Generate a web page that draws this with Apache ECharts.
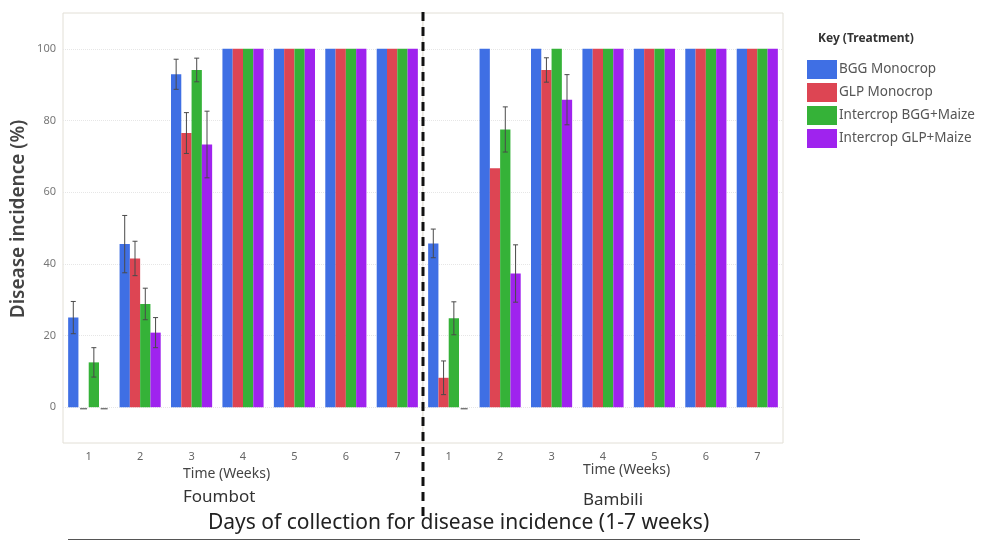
<!DOCTYPE html>
<html><head><meta charset="utf-8">
<script src="https://cdn.jsdelivr.net/npm/echarts@6/dist/echarts.min.js"></script>
<style>html,body{margin:0;padding:0;background:#fff}#c{width:985px;height:541px}</style>
</head><body><div id="c"></div>
<script>
// ---------- data ----------
const weeks = ['1', '2', '3', '4', '5', '6', '7'];
const treatments = ['BGG Monocrop', 'GLP Monocrop', 'Intercrop BGG+Maize', 'Intercrop GLP+Maize'];
const yTicks = [0, 20, 40, 60, 80, 100];

// Foumbot: mean disease incidence (%) per week
const foumbotBGG      = [25,   45.5, 92.9, 100, 100, 100, 100];
const foumbotGLP      = [0,    41.5, 76.5, 100, 100, 100, 100];
const foumbotBGGMaize = [12.5, 28.8, 94.1, 100, 100, 100, 100];
const foumbotGLPMaize = [0,    20.8, 73.3, 100, 100, 100, 100];
// Foumbot: error (+/-)
const foumbotBGGErr      = [4.5, 8.0, 4.2, 0, 0, 0, 0];
const foumbotGLPErr      = [0,   4.8, 5.7, 0, 0, 0, 0];
const foumbotBGGMaizeErr = [4.1, 4.4, 3.3, 0, 0, 0, 0];
const foumbotGLPMaizeErr = [0,   4.2, 9.3, 0, 0, 0, 0];

// Bambili: mean disease incidence (%) per week
const bambiliBGG      = [45.7, 100,  100,  100, 100, 100, 100];
const bambiliGLP      = [8.2,  66.7, 94.1, 100, 100, 100, 100];
const bambiliBGGMaize = [24.8, 77.5, 100,  100, 100, 100, 100];
const bambiliGLPMaize = [0,    37.3, 85.8, 100, 100, 100, 100];
// Bambili: error (+/-)
const bambiliBGGErr      = [4.0, 0,   0,   0, 0, 0, 0];
const bambiliGLPErr      = [4.7, 0,   3.4, 0, 0, 0, 0];
const bambiliBGGMaizeErr = [4.6, 6.3, 0,   0, 0, 0, 0];
const bambiliGLPMaizeErr = [0,   8.0, 7.0, 0, 0, 0, 0];

// ---------- styling ----------
const colors = ['#3f6fe4', '#dd4553', '#35b238', '#9f23ee'];
const FONT = 'Noto Sans';

const foumbot = [foumbotBGG, foumbotGLP, foumbotBGGMaize, foumbotGLPMaize];
const foumbotErr = [foumbotBGGErr, foumbotGLPErr, foumbotBGGMaizeErr, foumbotGLPMaizeErr];
const bambili = [bambiliBGG, bambiliGLP, bambiliBGGMaize, bambiliGLPMaize];
const bambiliErr = [bambiliBGGErr, bambiliGLPErr, bambiliBGGMaizeErr, bambiliGLPMaizeErr];

const GRID_TOP = 13, GRID_H = 430, GRID_W = 360, LEFT0 = 63;
const BAR_FRAC = 0.8;

function ln(x1, y1, x2, y2) {
  return { type: 'line', shape: { x1, y1, x2, y2 }, style: { stroke: '#4a4a4a', lineWidth: 1 } };
}

function barSeries(g, means) {
  return means.map((arr, s) => {
    const o = {
      type: 'bar', name: treatments[s], xAxisIndex: g, yAxisIndex: g,
      data: arr, barGap: '0%', barCategoryGap: '20%',
      itemStyle: { color: colors[s] }, silent: true
    };
    if (s === 0) {
      o.markLine = {
        silent: true, symbol: ['none', 'none'], z: 1,
        label: { show: false },
        lineStyle: { color: '#e6e6e6', type: 'dotted', width: 1 },
        data: yTicks.map(v => ({ yAxis: v }))
      };
    }
    return o;
  });
}

function errSeries(g, means, errs) {
  const data = [];
  means.forEach((arr, s) => arr.forEach((v, i) => data.push([i, v, errs[s][i], s])));
  return {
    type: 'custom', xAxisIndex: g, yAxisIndex: g, z: 6, silent: true,
    data, encode: { x: 0, y: 1 },
    renderItem(params, api) {
      const i = api.value(0), v = api.value(1), e = api.value(2), s = api.value(3);
      const band = api.size([1, 0])[0];
      const bw = band * BAR_FRAC / 4;
      const cx = api.coord([i, 0])[0] + (s - 1.5) * bw;
      const cap = 2.5;
      const children = [];
      if (e > 0) {
        const top = api.coord([i, v + e])[1], bot = api.coord([i, v - e])[1];
        children.push(ln(cx, top, cx, bot), ln(cx - cap, top, cx + cap, top), ln(cx - cap, bot, cx + cap, bot));
      } else if (v === 0) {
        const y0 = api.coord([i, 0])[1] + 1.5;
        const l = ln(cx - 3.5, y0, cx + 3.5, y0);
        l.style.stroke = '#777';
        l.style.lineWidth = 1.5;
        children.push(l);
      }
      return { type: 'group', children };
    }
  };
}

function xAxis(g) {
  return {
    type: 'category', gridIndex: g, data: weeks,
    axisLine: { show: false }, axisTick: { show: false },
    axisLabel: { color: '#666', fontSize: 11, margin: 8, fontFamily: FONT }
  };
}
function yAxis(g) {
  return {
    type: 'value', gridIndex: g, min: -10, max: 110,
    axisLine: { show: false }, axisTick: { show: false },
    splitLine: { show: false },
    axisLabel: {
      show: g === 0, customValues: yTicks, color: '#777', fontSize: 11, margin: 7, fontFamily: FONT
    }
  };
}

const chart = echarts.init(document.getElementById('c'), null, { renderer: 'canvas' });
chart.setOption({
  animation: false,
  backgroundColor: '#fff',
  textStyle: { fontFamily: FONT },
  grid: [
    { left: LEFT0, top: GRID_TOP, width: GRID_W, height: GRID_H, show: true, borderColor: '#e2dfd6', borderWidth: 1, backgroundColor: '#fff' },
    { left: LEFT0 + GRID_W, top: GRID_TOP, width: GRID_W, height: GRID_H, show: true, borderColor: '#e2dfd6', borderWidth: 1, backgroundColor: '#fff' }
  ],
  xAxis: [xAxis(0), xAxis(1)],
  yAxis: [yAxis(0), yAxis(1)],
  legend: {
    data: treatments, orient: 'vertical', left: 802, top: 55,
    itemWidth: 30, itemHeight: 19, itemGap: 4, selectedMode: false,
    icon: 'rect',
    textStyle: { fontSize: 13.5, color: '#555', fontFamily: FONT, padding: [0, 0, 0, -3] }
  },
  color: colors,
  title: [
    { text: 'Key (Treatment)', left: 818, top: 33, padding: 0, textStyle: { fontSize: 12, fontWeight: 'bold', color: '#333', fontFamily: FONT } },
    { text: 'Time (Weeks)', left: 183, top: 467, padding: 0, textStyle: { fontSize: 14, fontWeight: 'normal', color: '#444', fontFamily: FONT } },
    { text: 'Time (Weeks)', left: 583, top: 463, padding: 0, textStyle: { fontSize: 14, fontWeight: 'normal', color: '#444', fontFamily: FONT } },
    { text: 'Foumbot', left: 183, top: 489, padding: 0, textStyle: { fontSize: 17, fontWeight: 'normal', color: '#333', fontFamily: FONT } },
    { text: 'Bambili', left: 583, top: 492, padding: 0, textStyle: { fontSize: 17, fontWeight: 'normal', color: '#333', fontFamily: FONT } },
    { text: 'Days of collection for disease incidence (1-7 weeks)', left: 208, top: 513, padding: 0, textStyle: { fontSize: 21, fontWeight: 'normal', color: '#222', fontFamily: FONT } }
  ],
  graphic: [
    { type: 'text', x: 19, y: 219, rotation: Math.PI / 2,
      style: { text: 'Disease incidence (%)', fontSize: 19, fontWeight: 600, fill: '#444', fontFamily: FONT, align: 'center', verticalAlign: 'middle' } },
    { type: 'line', shape: { x1: LEFT0 + GRID_W, y1: 12, x2: LEFT0 + GRID_W, y2: 516 }, style: { stroke: '#111', lineWidth: 3, lineDash: [9, 6] }, z: 100 },
    { type: 'line', shape: { x1: 68, y1: 539.5, x2: 860, y2: 539.5 }, style: { stroke: '#555', lineWidth: 1 }, z: 100 }
  ],
  series: [
    ...barSeries(0, foumbot), errSeries(0, foumbot, foumbotErr),
    ...barSeries(1, bambili), errSeries(1, bambili, bambiliErr)
  ]
});
</script>
</body></html>
